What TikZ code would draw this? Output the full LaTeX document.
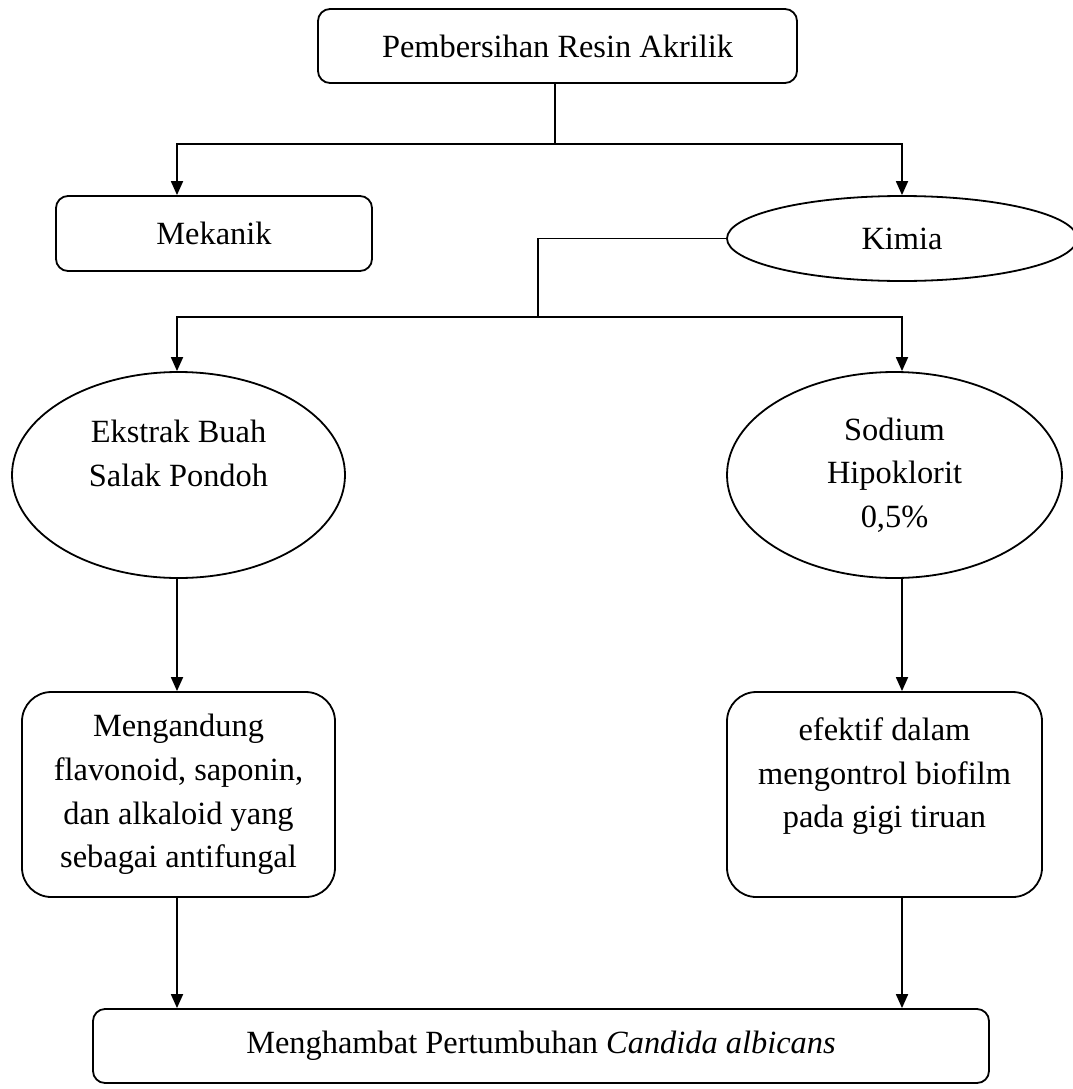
\documentclass[tikz,border=0pt]{standalone}
\usepackage{fontspec}
\setmainfont{Liberation Serif}
\usetikzlibrary{arrows.meta,shapes.geometric}
\begin{document}
\begin{tikzpicture}[x=0.75pt,y=-0.75pt,
  every node/.style={font=\fontsize{24.3}{32.8}\selectfont, align=center, inner sep=0pt},
  ln/.style={line width=1.35pt, black},
  arr/.style={ln, -{Triangle[length=10.5pt,width=9pt]}},
  rbox/.style 2 args={draw, line width=1.35pt, rectangle, rounded corners=9pt,
     minimum width={#1*0.75pt}, minimum height={#2*0.75pt}},
  bigbox/.style 2 args={draw, line width=1.35pt, rectangle, rounded corners=22pt,
     minimum width={#1*0.75pt}, minimum height={#2*0.75pt}},
  ell/.style 2 args={draw, line width=1.35pt, ellipse,
     minimum width={#1*0.75pt}, minimum height={#2*0.75pt}}]
\useasboundingbox (0,0) rectangle (1073,1089);
\coordinate (colL) at (177,0);
\coordinate (colR) at (902,0);
\node[rbox={479}{74}] (top) at (557.5,46) {Pembersihan Resin Akrilik};
\node[rbox={316}{75}] (mek) at (214,233.5) {Mekanik};
\node[ell={350}{85}] (kim) at (902,238.5) {Kimia};
\node[ell={333}{206}] (ek) at (178.5,475) {Ekstrak Buah\\Salak Pondoh\\[0pt]~};
\node[ell={335}{206}] (sod) at (894.5,475) {Sodium\\Hipoklorit\\0,5\%};
\node[bigbox={313}{205}] (meng) at (178.5,794.5) {Mengandung\\flavonoid, saponin,\\dan alkaloid yang\\sebagai antifungal};
\node[bigbox={315}{205}] (efek) at (884.5,794.5) {efektif dalam\\mengontrol biofilm\\pada gigi tiruan\\~};
\node[rbox={896}{74}] (bot) at (541,1046) {Menghambat Pertumbuhan \textit{Candida albicans}};
% connectors
\coordinate (j1) at (555,144);
\coordinate (j2) at (538,317);
\draw[ln] (top.south -| j1) -- (j1);
\draw[arr] (j1) -| (mek.north -| colL);
\draw[arr] (j1) -| (kim.north -| colR);
\draw[ln] (kim.west) -| (j2);
\draw[arr] (j2) -| (ek.north -| colL);
\draw[arr] (j2) -| (sod.north -| colR);
\draw[arr] (ek.south -| colL) -- (meng.north -| colL);
\draw[arr] (sod.south -| colR) -- (efek.north -| colR);
\draw[arr] (meng.south -| colL) -- (bot.north -| colL);
\draw[arr] (efek.south -| colR) -- (bot.north -| colR);
\end{tikzpicture}
\end{document}
